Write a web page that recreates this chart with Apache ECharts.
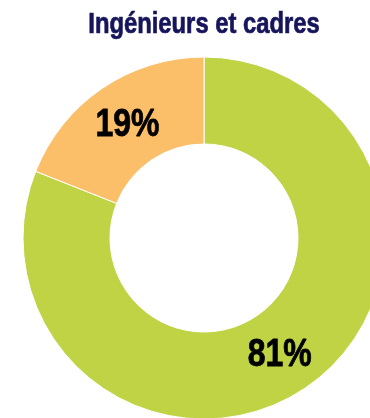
<!DOCTYPE html>
<html>
<head>
<meta charset="utf-8">
<script src="https://cdn.jsdelivr.net/npm/echarts@6/dist/echarts.min.js"></script>
<style>
  html, body { margin: 0; padding: 0; background: #fff; }
  #chart { width: 370px; height: 418px; }
</style>
</head>
<body>
<div id="chart"></div>
<script>
// Répartition des ingénieurs et cadres (en %)
const categories = ['Part A', 'Part B'];
const values = [81, 19];
const colors = ['#BFD345', '#FBBF6A'];
const titleText = 'Ingénieurs et cadres';

// Bold sans-serif squeezed horizontally to get a narrow face
const baseFont = '"Liberation Sans", Arial, sans-serif';
const squeeze = 0.82;

const chart = echarts.init(document.getElementById('chart'), null, { renderer: 'canvas' });

chart.setOption({
  animation: false,
  graphic: [{
    type: 'text',
    x: 204,
    y: 25,
    scaleX: squeeze,
    style: {
      text: titleText,
      font: 'bold 29px ' + baseFont,
      fill: '#16155C',
      stroke: '#16155C',
      lineWidth: 0.7,
      align: 'center',
      verticalAlign: 'middle'
    }
  }],
  series: [{
    type: 'pie',
    center: [204, 238],
    radius: [94, 181],
    startAngle: 90,
    clockwise: true,
    avoidLabelOverlap: false,
    itemStyle: { borderColor: '#ffffff', borderWidth: 1 },
    label: {
      show: true,
      position: 'inside',
      formatter: p => p.value + '%',
      fontFamily: baseFont,
      fontWeight: 'bold',
      fontSize: 39,
      color: '#000000',
      textBorderColor: '#000000',
      textBorderWidth: 0.8
    },
    // labels sit slightly clockwise of the slice mid-angle
    labelLayout: p => (p.dataIndex === 0 ? { dx: -4, dy: 1 } : { dx: 3, dy: 3 }),
    labelLine: { show: false },
    emphasis: { disabled: true },
    data: categories.map((c, i) => ({
      name: c,
      value: values[i],
      itemStyle: { color: colors[i] }
    }))
  }]
});

// Narrow the percentage labels the same way as the title
const pieData = chart.getModel().getSeriesByIndex(0).getData();
pieData.each(idx => {
  const el = pieData.getItemGraphicEl(idx);
  const txt = el && el.getTextContent();
  if (txt) {
    txt.scaleX = squeeze;
    txt.markRedraw();
  }
});
chart.getZr().refresh();
</script>
</body>
</html>
